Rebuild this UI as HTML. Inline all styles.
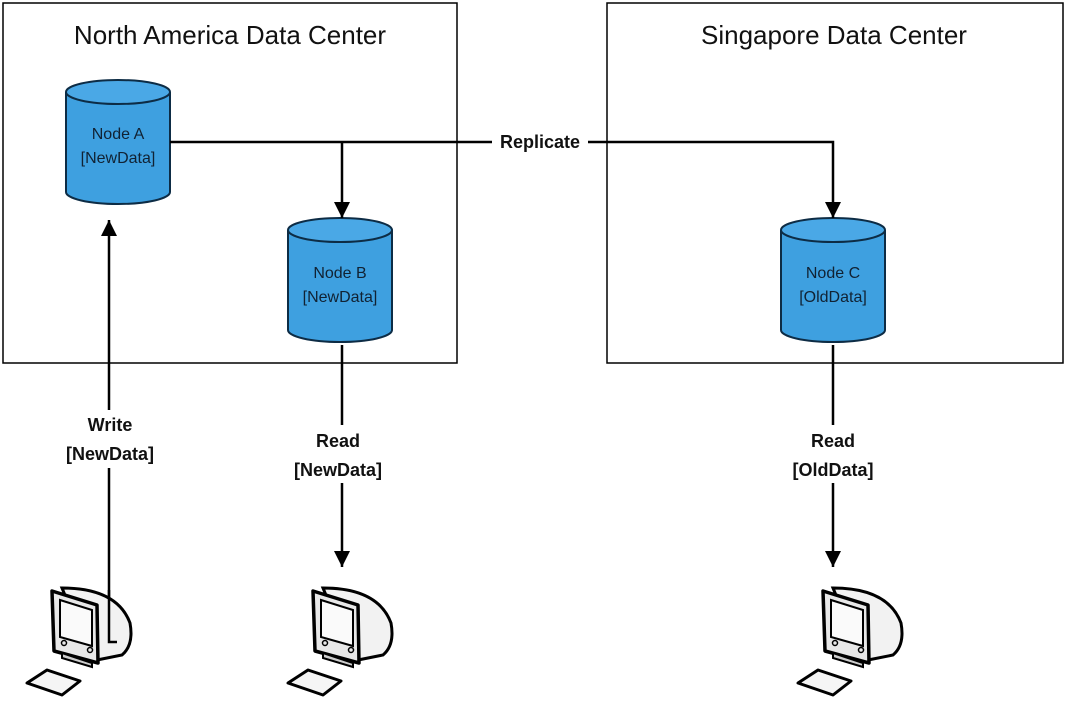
<!DOCTYPE html>
<html><head><meta charset="utf-8"><style>
html,body{margin:0;padding:0;background:#fff;}
svg{display:block;font-family:"Liberation Sans",sans-serif;}
</style></head><body>
<svg width="1066" height="705" viewBox="0 0 1066 705" xmlns="http://www.w3.org/2000/svg">
<defs>
<marker id="ah" viewBox="0 0 10 10" refX="10" refY="5" markerWidth="18" markerHeight="16" markerUnits="userSpaceOnUse" orient="auto">
<path d="M0,0 L10,5 L0,10 z" fill="#000"/></marker>
<g id="pc">
  <path d="M40,5 Q95,5 108,40 Q112,62 100,72 L70,78 Z" fill="#f2f2f2" stroke="#000" stroke-width="3"/>
  <path d="M30,8 L75,22 L76,80 L32,68 Z" fill="#e8e8e8" stroke="#000" stroke-width="3.5" stroke-linejoin="round"/>
  <path d="M38,17 L70,27 L70,63 L38,54 Z" fill="#fafafa" stroke="#000" stroke-width="2"/>
  <circle cx="42" cy="60" r="2.5" fill="none" stroke="#000" stroke-width="1.5"/>
  <circle cx="68" cy="67" r="2.5" fill="none" stroke="#000" stroke-width="1.5"/>
  <path d="M40,70 L70,80 L70,84 L40,75 Z" fill="#ccc" stroke="#000" stroke-width="2"/>
  <path d="M5,100 L25,87 L58,98 L40,112 Z" fill="#f5f5f5" stroke="#000" stroke-width="3" stroke-linejoin="round"/>
</g>
<g id="cyl">
  <path d="M0,12 L0,112 A52,12 0 0 0 104,112 L104,12" fill="#3ea0e0" stroke="#0d2c45" stroke-width="2"/>
  <ellipse cx="52" cy="12" rx="52" ry="12" fill="#4aa8e6" stroke="#0d2c45" stroke-width="2"/>
</g>
</defs>
<rect x="3" y="3" width="454" height="360" fill="none" stroke="#000" stroke-width="1.5"/>
<rect x="607" y="3" width="456" height="360" fill="none" stroke="#000" stroke-width="1.5"/>
<text x="230" y="44" font-size="26" text-anchor="middle" fill="#111">North America Data Center</text>
<text x="834" y="44" font-size="26" text-anchor="middle" fill="#111">Singapore Data Center</text>

<use href="#cyl" x="66" y="80"/>
<use href="#cyl" x="288" y="218"/>
<use href="#cyl" x="781" y="218"/>
<g font-size="16" fill="#123" text-anchor="middle">
<text x="118" y="139">Node A</text><text x="118" y="163">[NewData]</text>
<text x="340" y="278">Node B</text><text x="340" y="302">[NewData]</text>
<text x="833" y="278">Node C</text><text x="833" y="302">[OldData]</text>
</g>

<g stroke="#000" stroke-width="2.5" fill="none">
<path d="M170,142 L492,142 M588,142 L833,142 L833,218" marker-end="url(#ah)"/>
<path d="M342,142 L342,218" marker-end="url(#ah)"/>
<path d="M109,642 L109,220" marker-end="url(#ah)"/>
<path d="M342,345 L342,567" marker-end="url(#ah)"/>
<path d="M833,345 L833,567" marker-end="url(#ah)"/>
</g>
<g font-size="18" font-weight="bold" text-anchor="middle" fill="#111">
<text x="540" y="148">Replicate</text>
<rect x="62" y="410" width="96" height="58" fill="#fff"/>
<text x="110" y="431">Write</text><text x="110" y="460">[NewData]</text>
<rect x="283" y="425" width="116" height="58" fill="#fff"/>
<text x="338" y="447">Read</text><text x="338" y="476">[NewData]</text>
<rect x="780" y="425" width="110" height="58" fill="#fff"/>
<text x="833" y="447">Read</text><text x="833" y="476">[OldData]</text>
</g>
<use href="#pc" x="22" y="583"/>
<use href="#pc" x="283" y="583"/>
<use href="#pc" x="793" y="583"/>
<path d="M109,590 L109,642 L117,642" stroke="#000" stroke-width="2.5" fill="none"/>
</svg>
</body></html>
